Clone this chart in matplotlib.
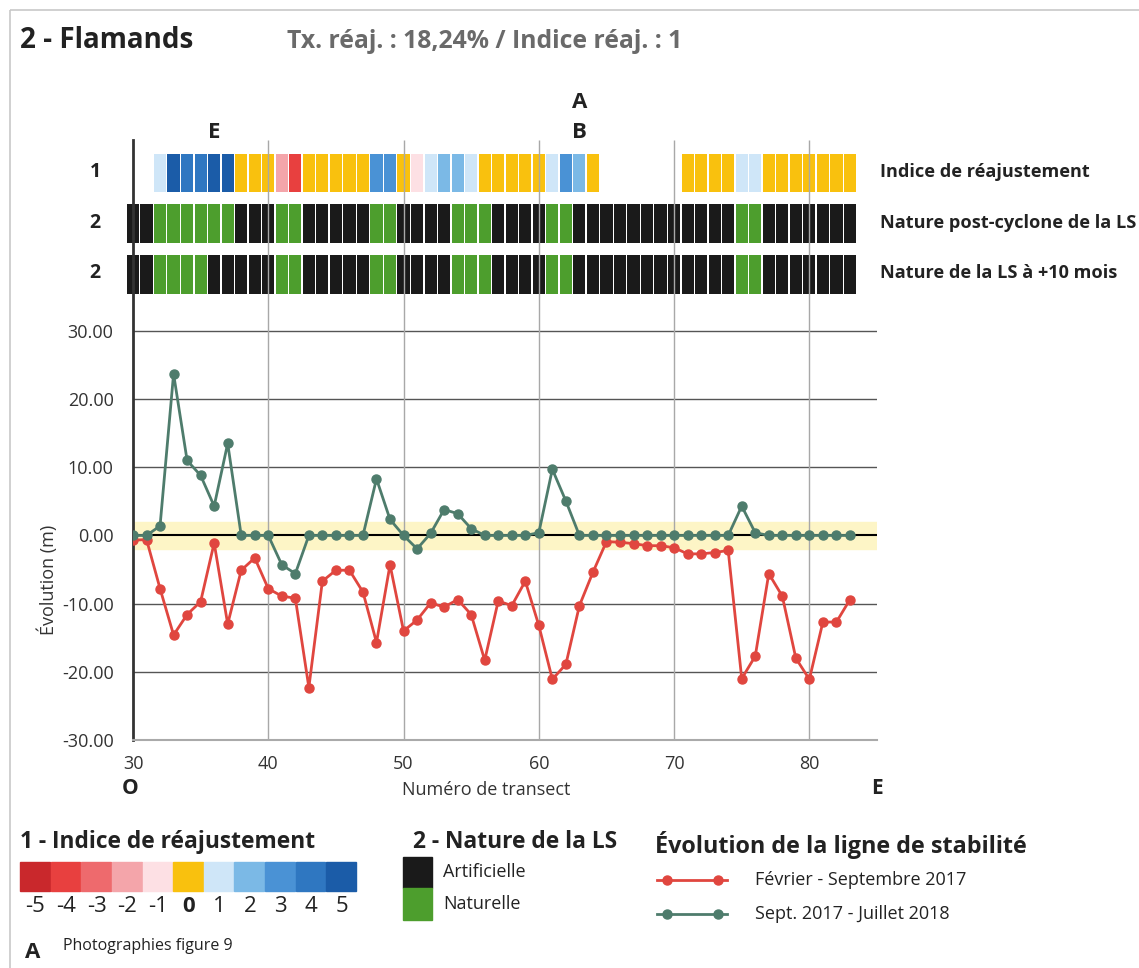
import matplotlib
matplotlib.use("Agg")
import matplotlib.pyplot as plt
from matplotlib.patches import Rectangle

plt.rcParams["font.family"] = ["Open Sans", "DejaVu Sans"]

# --- donnees ---
transects = list(range(30, 84))

# 1 - indice de reajustement (None = pas de valeur)
indice = ([None, None, 1, 5, 4, 4, 5, 5, 0, 0, 0, -2, -4, 0, 0, 0, 0, 0, 3, 3,
           0, -1, 1, 2, 2, 1, 0, 0, 0, 0, 0, 1, 3, 2, 0]
          + [None] * 6
          + [0, 0, 0, 0, 1, 1, 0, 0, 0, 0, 0, 0, 0])

# 2 - nature de la LS (1 = naturelle, 0 = artificielle)
nat_post = [0, 0, 1, 1, 1, 1, 1, 1, 0, 0, 0, 1, 1, 0, 0, 0, 0, 0, 1, 1,
            0, 0, 0, 0, 1, 1, 1, 0, 0, 0, 0, 1, 1, 0, 0, 0, 0, 0, 0, 0,
            0, 0, 0, 0, 0, 1, 1, 0, 0, 0, 0, 0, 0, 0]
nat_10m = [0, 0, 1, 1, 1, 1, 0, 0, 0, 0, 0, 1, 1, 0, 0, 0, 0, 0, 1, 1,
           0, 0, 0, 0, 1, 1, 1, 0, 0, 0, 0, 1, 1, 0, 0, 0, 0, 0, 0, 0,
           0, 0, 0, 0, 0, 1, 1, 0, 0, 0, 0, 0, 0, 0]

evol_2017 = [-0.7, -0.6, -7.8, -14.6, -11.6, -9.7, -1.1, -13.0, -5.1, -3.3,
             -7.8, -8.9, -9.2, -22.3, -6.7, -5.1, -5.1, -8.3, -15.7, -4.3,
             -14.0, -12.4, -9.9, -10.5, -9.4, -11.6, -18.3, -9.6, -10.3, -6.7,
             -13.2, -21.1, -18.9, -10.3, -5.4, -0.9, -1.0, -1.2, -1.5, -1.5,
             -1.8, -2.7, -2.7, -2.5, -2.2, -21.0, -17.7, -5.6, -8.9, -18.0,
             -21.1, -12.7, -12.7, -9.4]
evol_2018 = [0, 0, 1.4, 23.7, 11.0, 8.8, 4.3, 13.5, 0, 0,
             0, -4.3, -5.6, 0, 0, 0, 0, 0, 8.3, 2.35,
             0, -1.96, 0.3, 3.8, 3.2, 1.0, 0, 0, 0, 0,
             0.4, 9.7, 5.05, 0, 0, 0, 0, 0, 0, 0,
             0, 0, 0, 0, 0, 4.3, 0.4, 0, 0, 0,
             0, 0, 0, 0]

# reperes photos (lettre, transect)
photos = [("E", 36), ("B", 63), ("A", 63)]

indice_vals = [-5, -4, -3, -2, -1, 0, 1, 2, 3, 4, 5]
indice_cols = ["#c9282c", "#e8403f", "#ee6a6d", "#f4a5aa", "#fde0e4", "#f9c10e",
               "#cfe6f8", "#7bb9e6", "#4a92d5", "#2f77c1", "#1b5ca8"]
col_ind = dict(zip(indice_vals, indice_cols))
NOIR, VERT = "#1a1a1a", "#4d9e2d"
ROUGE, SARCELLE = "#e0463f", "#4e7c6c"
TXT = "#222222"

W, H = 1139, 968
fig = plt.figure(figsize=(W / 100, H / 100), dpi=100)
ax = fig.add_axes([133 / W, 1 - 740 / H, (877 - 133) / W, (740 - 140) / H])
ax.set_xlim(30, 85)
ax.set_ylim(-30, 58)

# bandes de couleurs
rows = [(50.4, 5.6, [col_ind[v] if v is not None else "none" for v in indice]),
        (42.9, 5.75, [VERT if v else NOIR for v in nat_post]),
        (35.4, 5.75, [VERT if v else NOIR for v in nat_10m])]
for bot, h, cols in rows:
    ax.bar(transects, h, bottom=bot, width=0.9, color=cols, clip_on=False, zorder=1)

ax.axhspan(-2, 2, color="#fdf5c6", zorder=0)
ax.hlines([-20, -10, 10, 20, 30], 30, 85, colors="#555555", lw=1, zorder=2)
ax.vlines([40, 50, 60, 70, 80], -30, 58, colors="#a8a8a8", lw=1, zorder=2)
ax.axhline(0, color="black", lw=1.5, zorder=2)

ax.plot(transects, evol_2017, "o-", color=ROUGE, lw=2, ms=6.5, zorder=4)
ax.plot(transects, evol_2018, "o-", color=SARCELLE, lw=2, ms=6.5, zorder=5)

# lettres empilees au-dessus du transect
stack = {}
for k, n in photos:
    lvl = stack.get(n, 0)
    stack[n] = lvl + 1
    ax.annotate(k, (n, 58), xytext=(0, 7 + lvl * 30), textcoords="offset pixels",
                ha="center", va="center", fontsize=16, fontweight="bold", color=TXT,
                annotation_clip=False)

for s in ["top", "right"]:
    ax.spines[s].set_visible(False)
ax.spines["left"].set_color("#333333")
ax.spines["left"].set_linewidth(2)
ax.spines["bottom"].set_color("#aaaaaa")
ax.spines["bottom"].set_linewidth(1.5)

ax.set_yticks([-30, -20, -10, 0, 10, 20, 30])
ax.set_yticklabels([f"{v:.2f}" for v in [-30, -20, -10, 0, 10, 20, 30]])
ax.set_xticks([30, 40, 50, 60, 70, 80])
ax.tick_params(length=0, labelsize=13, labelcolor="#333333")
ax.tick_params(axis="y", pad=14)
ax.tick_params(axis="x", pad=11)

# --- textes et legende (axe de fond en pixels) ---
bg = fig.add_axes([0, 0, 1, 1], zorder=-1)
bg.set_xlim(0, W); bg.set_ylim(H, 0); bg.axis("off")
bg.add_patch(Rectangle((10, 10), W, H, fill=False, ec="#c8c8c8", lw=1.2))

ov = fig.add_axes([0, 0, 1, 1], zorder=10)
ov.set_xlim(0, W); ov.set_ylim(H, 0); ov.axis("off")
ov.patch.set_alpha(0)

ov.text(20, 41, "2 - Flamands", fontsize=20, fontweight="bold", color=TXT, va="center")
ov.text(287, 42, "Tx. réaj. : 18,24% / Indice réaj. : 1", fontsize=17.8, fontweight="bold",
        color="#6a6a6a", va="center")

row_lbl = [("1", "Indice de réajustement", 172), ("2", "Nature post-cyclone de la LS", 223),
           ("2", "Nature de la LS à +10 mois", 273)]
for num, lbl, yy in row_lbl:
    ov.text(95, yy, num, fontsize=14, fontweight="bold", color=TXT, ha="center", va="center")
    ov.text(880, yy, lbl, fontsize=13.1, fontweight="bold", color=TXT, va="center")

ov.text(48, 580, "Évolution (m)", fontsize=13, color="#333333", rotation=90, ha="center", va="center")
ov.text(130, 789, "O", fontsize=15, fontweight="bold", color=TXT, ha="center", va="center")
ov.text(877, 789, "E", fontsize=15, fontweight="bold", color=TXT, ha="center", va="center")
ov.text(486, 790, "Numéro de transect", fontsize=13, color="#333333", ha="center", va="center")

# legende 1
ov.text(20, 842, "1 - Indice de réajustement", fontsize=16.4, fontweight="bold", color=TXT, va="center")
bw = (357 - 20) / len(indice_vals)
for i, (v, c) in enumerate(zip(indice_vals, indice_cols)):
    ov.add_patch(Rectangle((20 + i * bw, 862), bw - 1, 29, color=c))
    ov.text(20 + (i + 0.5) * bw, 906, str(v), fontsize=16, color=TXT, ha="center", va="center",
            fontweight="bold" if v == 0 else "normal")

# legende 2
ov.text(413, 842, "2 - Nature de la LS", fontsize=16.4, fontweight="bold", color=TXT, va="center")
ov.add_patch(Rectangle((403, 857), 29, 31, color=NOIR))
ov.add_patch(Rectangle((403, 888), 29, 32, color=VERT))
ov.text(443, 872, "Artificielle", fontsize=13, color=TXT, va="center")
ov.text(443, 904, "Naturelle", fontsize=13, color=TXT, va="center")

# legende 3
ov.text(655, 845, "Évolution de la ligne de stabilité", fontsize=16.8, fontweight="bold",
        color=TXT, va="center")
for yy, c, lbl in [(880, ROUGE, "Février - Septembre 2017"), (914, SARCELLE, "Sept. 2017 - Juillet 2018")]:
    ov.plot([657, 727], [yy, yy], color=c, lw=2)
    ov.plot([667, 718], [yy, yy], "o", color=c, ms=6.5)
    ov.text(755, yy, lbl, fontsize=13, color=TXT, va="center")

ov.text(33, 953, "A", fontsize=16, fontweight="bold", color=TXT, ha="center", va="center")
ov.text(63, 946, "Photographies figure 9", fontsize=11.5, color=TXT, va="center")

fig.savefig("out.png", dpi=100)
